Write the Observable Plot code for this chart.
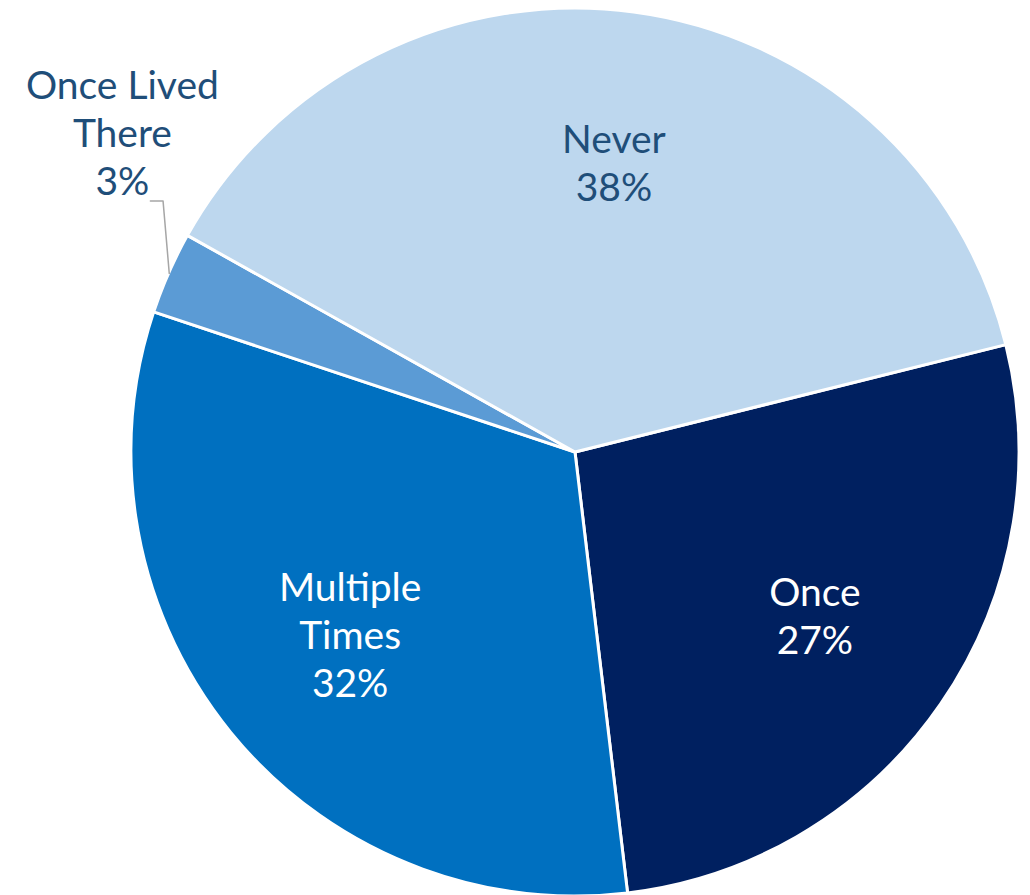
<!DOCTYPE html>
<html>
<head>
<meta charset="utf-8">
<script src="https://cdn.jsdelivr.net/npm/d3@7"></script>
<script src="https://cdn.jsdelivr.net/npm/@observablehq/plot@0.6"></script>
<style>
  html, body { margin: 0; padding: 0; background: #fff; }
  #chart svg { display: block; }
</style>
</head>
<body>
<div id="chart"></div>
<script>
// Data (clockwise order, starting from the first slice)
const categories = ["Once", "Multiple Times", "Once Lived There", "Never"];
const labelLines = [["Once"], ["Multiple", "Times"], ["Once Lived", "There"], ["Never"]];
const values = [27, 32, 3, 38];
const colors = ["#002060", "#0070C0", "#5B9BD5", "#BDD7EE"];
const textColors = ["#FFFFFF", "#FFFFFF", "#1F4E79", "#1F4E79"];
const outside = [false, false, true, false];

const firstSliceAngle = 76; // degrees, clockwise from 12 o'clock

const data = categories.map((c, i) => ({ category: c, value: values[i], lines: labelLines[i], color: colors[i], text: textColors[i], outside: outside[i] }));

const pie = d3.pie().sort(null).value(d => d.value)
  .startAngle(firstSliceAngle * Math.PI / 180)
  .endAngle(firstSliceAngle * Math.PI / 180 + 2 * Math.PI);
const arcs = pie(data);

// label text rows (in unit-radius coordinates)
const lineStep = 0.108; // line spacing in radius units
const labelRows = [];
const leader = [];
arcs.forEach(a => {
  const d = a.data;
  const mid = (a.startAngle + a.endAngle) / 2;
  const lines = [...d.lines, `${d.value}%`];
  let cx, cy;
  if (d.outside) {
    const ang = mid + 12 * Math.PI / 180;
    cx = 1.22 * Math.sin(ang) - 0.031; cy = 1.22 * Math.cos(ang) + 0.003;
    // leader line from the slice edge up to the label
    const ex = Math.sin(mid), ey = Math.cos(mid);
    const lastY = cy - (lines.length - 1) / 2 * lineStep;
    leader.push({ x: ex, y: ey });
    leader.push({ x: ex - 0.014, y: lastY - 0.042 });
    leader.push({ x: cx + 0.063, y: lastY - 0.042 });
  } else {
    const r = 0.655;
    cx = r * Math.sin(mid); cy = r * Math.cos(mid);
  }
  lines.forEach((t, k) => {
    labelRows.push({ x: cx, y: cy - (k - (lines.length - 1) / 2) * lineStep, t, fill: d.text });
  });
});

const W = 1030, H = 895;
const centerX = 575, centerY = 452, R = 444;

function pieSlices(index, scales) {
  const cx = scales.x(0), cy = scales.y(0);
  const r = scales.x(1) - scales.x(0);
  const g = d3.create("svg:g").attr("transform", `translate(${cx},${cy})`);
  const arc = d3.arc().innerRadius(0).outerRadius(r);
  g.selectAll("path").data(arcs).join("path")
    .attr("d", arc)
    .attr("fill", d => d.data.color)
    .attr("stroke", "#FFFFFF")
    .attr("stroke-width", 3)
    .attr("stroke-linejoin", "round");
  return g.node();
}

const chart = Plot.plot({
  width: W,
  height: H,
  margin: 0,
  style: { background: "#fff", fontFamily: "Lato, 'Open Sans', sans-serif" },
  x: { type: "linear", domain: [-1, 1], range: [centerX - R, centerX + R], axis: null },
  y: { type: "linear", domain: [-1, 1], range: [centerY + R, centerY - R], axis: null },
  marks: [
    pieSlices,
    Plot.line(leader, { x: "x", y: "y", stroke: "#A6A6A6", strokeWidth: 1.5 }),
    Plot.text(labelRows, {
      x: "x", y: "y", text: "t", fill: "fill",
      fontSize: 39, textAnchor: "middle", lineAnchor: "middle",
      fontFamily: "Lato, 'Open Sans', sans-serif"
    })
  ]
});

document.getElementById("chart").appendChild(chart);
</script>
</body>
</html>
